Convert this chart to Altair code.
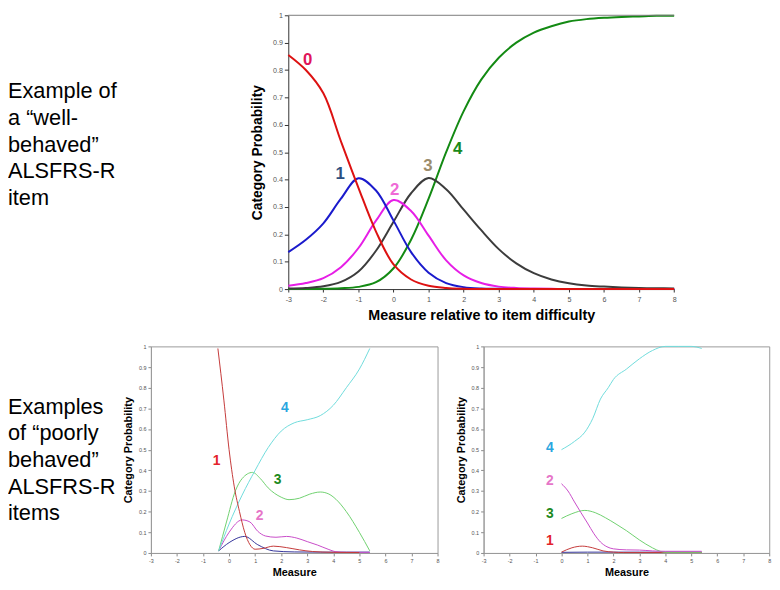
import altair as alt
import pandas as pd

FONT = "Liberation Sans"

# ---------------- data: top chart (well-behaved item) ----------------
top_x = [-3, -2.5, -2, -1.5, -1, -0.5, 0, 0.5, 1, 1.5, 2, 2.5, 3, 3.5, 4, 4.5, 5, 5.5, 6, 6.5, 7, 7.5, 8]
top_p0 = [0.855, 0.8, 0.715, 0.54, 0.37, 0.21, 0.09, 0.035, 0.012, 0.004, 0.001, 0, 0, 0, 0, 0, 0, 0, 0, 0, 0, 0, 0]
top_p1 = [0.135, 0.18, 0.24, 0.33, 0.405, 0.36, 0.25, 0.135, 0.06, 0.022, 0.007, 0.002, 0.001, 0, 0, 0, 0, 0, 0, 0, 0, 0, 0]
top_p2 = [0.012, 0.022, 0.04, 0.08, 0.15, 0.25, 0.325, 0.285, 0.195, 0.105, 0.05, 0.022, 0.009, 0.004, 0.002, 0.001, 0, 0, 0, 0, 0, 0, 0]
top_p3 = [0.002, 0.004, 0.01, 0.026, 0.064, 0.14, 0.246, 0.35, 0.406, 0.365, 0.29, 0.215, 0.146, 0.094, 0.058, 0.035, 0.021, 0.013, 0.009, 0.006, 0.004, 0.003, 0.002]
top_p4 = [0, 0.0005, 0.001, 0.003, 0.008, 0.025, 0.076, 0.18, 0.33, 0.5, 0.65, 0.765, 0.845, 0.9, 0.937, 0.96, 0.977, 0.986, 0.991, 0.994, 0.996, 0.998, 0.998]
top_cats = ["0", "1", "2", "3", "4"]
top_line_colors = ["#dd1111", "#1a1acc", "#e61ee6", "#3c3c3c", "#138a13"]
top_lab_x = [-2.45, -1.52, 0.03, 0.98, 1.83]
top_lab_y = [0.836, 0.419, 0.36, 0.45, 0.51]
top_lab_colors = ["#e0155a", "#2c4f80", "#ef6ad6", "#9c8c6c", "#1a8a1a"]
top_border_x = [-3]
top_border_x2 = [8]
top_border_p = [1]
top_desc = "Example of\na \u201cwell-\nbehaved\u201d\nALSFRS-R\nitem"

# ---------------- data: bottom-left chart ----------------
bl0_x = [-0.4, 0.0, 0.6, 1.1, 1.7, 2.5, 3.5, 4.5, 5.4]
bl0_y = [0.01, 0.05, 0.08, 0.04, 0.01, 0.005, 0.004, 0.004, 0.004]
bl1_x = [-0.43, -0.2, 0.0, 0.2, 0.4, 0.6, 0.8, 1.0, 1.3, 1.7, 2.2, 2.7, 3.2, 4.0, 5.0]
bl1_y = [0.99, 0.74, 0.5, 0.32, 0.2, 0.1, 0.04, 0.018, 0.022, 0.033, 0.026, 0.015, 0.007, 0.003, 0.002]
bl2_x = [-0.4, 0.0, 0.5, 0.8, 1.1, 1.4, 1.8, 2.2, 2.6, 3.0, 3.4, 3.8, 4.1, 4.5, 5.4]
bl2_y = [0.01, 0.1, 0.16, 0.15, 0.105, 0.082, 0.076, 0.08, 0.072, 0.055, 0.038, 0.018, 0.006, 0.003, 0.003]
bl3_x = [-0.4, -0.1, 0.24, 0.5, 0.9, 1.2, 1.5, 2.0, 2.3, 2.7, 3.1, 3.5, 3.8, 4.1, 4.5, 5.0, 5.4]
bl3_y = [0.01, 0.15, 0.3, 0.36, 0.39, 0.36, 0.315, 0.27, 0.258, 0.265, 0.285, 0.295, 0.287, 0.26, 0.2, 0.1, 0.01]
bl4_x = [-0.4, 0.0, 0.5, 1.0, 1.5, 2.0, 2.5, 3.0, 3.5, 4.0, 4.5, 5.0, 5.4]
bl4_y = [0.01, 0.14, 0.28, 0.4, 0.51, 0.59, 0.63, 0.645, 0.665, 0.715, 0.8, 0.89, 0.99]
bl_lab_text = ["1", "2", "3", "4"]
bl_lab_x = [-0.48, 1.17, 1.86, 2.14]
bl_lab_y = [0.443, 0.18, 0.351, 0.70]
bl_desc = "Examples\nof \u201cpoorly\nbehaved\u201d\nALSFRS-R\nitems"

# ---------------- data: bottom-right chart ----------------
br0_x = [0, 1, 2, 3, 4, 5.4]
br0_y = [0.003, 0.004, 0.004, 0.004, 0.004, 0.004]
br1_x = [0, 0.4, 0.8, 1.2, 1.6, 2.0, 2.4, 5.4]
br1_y = [0.004, 0.025, 0.033, 0.025, 0.01, 0.004, 0.002, 0.002]
br2_x = [0, 0.25, 0.5, 0.75, 1.0, 1.25, 1.5, 1.75, 2.0, 2.5, 3.0, 3.5, 4.0, 5.4]
br2_y = [0.335, 0.3, 0.247, 0.195, 0.145, 0.093, 0.053, 0.03, 0.02, 0.015, 0.014, 0.01, 0.008, 0.008]
br3_x = [0, 0.4, 0.9, 1.3, 1.7, 2.1, 2.5, 3.0, 3.5, 3.8, 4.0, 5.4]
br3_y = [0.167, 0.19, 0.206, 0.195, 0.17, 0.14, 0.108, 0.063, 0.025, 0.008, 0.003, 0.003]
br4_x = [0, 0.5, 0.9, 1.2, 1.5, 1.8, 2.0, 2.5, 3.0, 3.5, 4.0, 4.5, 5.0, 5.4]
br4_y = [0.5, 0.54, 0.585, 0.65, 0.745, 0.8, 0.84, 0.89, 0.94, 0.98, 1.0, 1.0, 1.0, 0.99]
br_lab_text = ["4", "2", "3", "1"]
br_lab_x = [-0.45, -0.45, -0.45, -0.45]
br_lab_y = [0.51, 0.35, 0.19, 0.06]

small_cats = ["0", "1", "2", "3", "4"]
small_line_colors = ["#34349a", "#c43a3a", "#c84cc8", "#6fd06f", "#6fdcdc"]
small_lab_colors = ["#2c2c9a", "#e3232b", "#e676c8", "#1e8a1e", "#2aa6e0"]

x_ticks = [-3, -2, -1, 0, 1, 2, 3, 4, 5, 6, 7, 8]
y_ticks = [0, 0.1, 0.2, 0.3, 0.4, 0.5, 0.6, 0.7, 0.8, 0.9, 1]


def long_df(series):
    rows = []
    for cat, xs, ys in series:
        for xv, yv in zip(xs, ys):
            rows.append({"cat": cat, "x": xv, "p": yv})
    return pd.DataFrame(rows)


LABEL_EXPR = "'' + datum.value"
NO_FRAME = alt.ViewBackground(strokeOpacity=0)


def desc_chart(text, w, h, y_top):
    return alt.Chart(pd.DataFrame({"t": [text]})).mark_text(
        align="left", baseline="top", lineBreak="\n", lineHeight=27, fontSize=22, font=FONT, color="#000000"
    ).encode(x=alt.value(0), y=alt.value(y_top), text="t:N").properties(width=w, height=h, view=NO_FRAME)


# ---------------- top chart ----------------
top_df = long_df([
    ("4", top_x, top_p4), ("3", top_x, top_p3), ("2", top_x, top_p2),
    ("1", top_x, top_p1), ("0", top_x, top_p0),
])
top_lab_df = pd.DataFrame({"t": top_cats, "x": top_lab_x, "p": top_lab_y})
top_border_df = pd.DataFrame({"x": top_border_x, "x2": top_border_x2, "p": top_border_p})

top_xenc = alt.X("x:Q", scale=alt.Scale(domain=[-3, 8], nice=False, zero=False),
                 axis=alt.Axis(values=x_ticks, labelExpr=LABEL_EXPR, title="Measure relative to item difficulty",
                               labelFontSize=7.2, labelColor="#555555", labelPadding=4, labelFlush=False,
                               labelOverlap=False,
                               tickSize=3, tickColor="#333333", domainColor="#333333",
                               titleFontSize=14.5, titleFontWeight="bold", titleColor="#000000",
                               titlePadding=6, grid=False))
top_yenc = alt.Y("p:Q", scale=alt.Scale(domain=[0, 1], nice=False, zero=False),
                 axis=alt.Axis(values=y_ticks, labelExpr=LABEL_EXPR, title="Category Probability",
                               labelFontSize=7.2, labelColor="#555555", labelPadding=2, labelFlush=False,
                               labelOverlap=False,
                               tickSize=4, tickColor="#333333", domainColor="#333333",
                               titleFontSize=14, titleFontWeight="bold", titleColor="#000000",
                               titlePadding=8.5, grid=False))

top_border = alt.Chart(top_border_df).mark_rule(color="#7a7a7a", strokeWidth=1).encode(
    x=top_xenc, x2="x2:Q", y=top_yenc)
top_lines = alt.Chart(top_df).mark_line(strokeWidth=2, interpolate="catmull-rom").encode(
    x=top_xenc, y=top_yenc,
    color=alt.Color("cat:N", scale=alt.Scale(domain=top_cats, range=top_line_colors), legend=None),
)
top_labels = alt.Chart(top_lab_df).mark_text(fontSize=17, fontWeight="bold", font=FONT).encode(
    x=top_xenc, y=top_yenc, text="t:N",
    fill=alt.Fill("t:N", scale=alt.Scale(domain=top_cats, range=top_lab_colors), legend=None),
)
top_plot = alt.layer(top_lines, top_border, top_labels).properties(width=390.4, height=277, view=NO_FRAME)

row1 = alt.hconcat(desc_chart(top_desc, 240, 277, 66.9), top_plot, spacing=43.6, bounds="flush")


# ---------------- bottom charts ----------------
def small_encodings():
    xe = alt.X("x:Q", scale=alt.Scale(domain=[-3, 8], nice=False, zero=False),
               axis=alt.Axis(values=x_ticks, labelExpr=LABEL_EXPR, title="Measure",
                             labelFontSize=5.5, labelColor="#555555", labelPadding=3, labelFlush=False,
                             labelOverlap=False,
                             tickSize=3, tickColor="#8a8a8a", domainColor="#9a9a9a",
                             titleFontSize=11, titleFontWeight="bold", titleColor="#000000",
                             titlePadding=2.5, grid=False))
    ye = alt.Y("p:Q", scale=alt.Scale(domain=[0, 1], nice=False, zero=False),
               axis=alt.Axis(values=y_ticks, labelExpr=LABEL_EXPR, title="Category Probability",
                             labelFontSize=5.5, labelColor="#555555", labelPadding=2, labelFlush=False,
                             labelOverlap=False,
                             tickSize=3, tickColor="#8a8a8a", domainColor="#9a9a9a",
                             titleFontSize=11, titleFontWeight="bold", titleColor="#000000",
                             titlePadding=4.5, grid=False))
    return xe, ye


def small_panel(series, lab_text, lab_x, lab_y, w, h):
    xe, ye = small_encodings()
    df = long_df(series)
    lines = alt.Chart(df).mark_line(strokeWidth=1, interpolate="monotone").encode(
        x=xe, y=ye,
        color=alt.Color("cat:N", scale=alt.Scale(domain=small_cats, range=small_line_colors), legend=None),
    )
    lab_df = pd.DataFrame({"t": lab_text, "x": lab_x, "p": lab_y})
    labels = alt.Chart(lab_df).mark_text(fontSize=14, fontWeight="bold", font=FONT).encode(
        x=xe, y=ye, text="t:N",
        fill=alt.Fill("t:N", scale=alt.Scale(domain=small_cats, range=small_lab_colors), legend=None),
    )
    return alt.layer(lines, labels).properties(
        width=w, height=h, view=alt.ViewBackground(stroke="#9a9a9a", strokeWidth=1))


bl = small_panel(
    [("0", bl0_x, bl0_y), ("2", bl2_x, bl2_y), ("3", bl3_x, bl3_y), ("4", bl4_x, bl4_y), ("1", bl1_x, bl1_y)],
    bl_lab_text, bl_lab_x, bl_lab_y, 290, 209)
br = small_panel(
    [("0", br0_x, br0_y), ("1", br1_x, br1_y), ("3", br3_x, br3_y), ("4", br4_x, br4_y), ("2", br2_x, br2_y)],
    br_lab_text, br_lab_x, br_lab_y, 289, 209)

row2 = alt.hconcat(desc_chart(bl_desc, 97.1, 209, 50.9), bl, br, spacing=46.6, bounds="flush")

chart = alt.vconcat(row1, row2, spacing=21).resolve_scale(
    color="independent", fill="independent"
).properties(padding=0).configure(font=FONT)

chart.save("out.html", embed_options={"renderer": "svg", "actions": False})
